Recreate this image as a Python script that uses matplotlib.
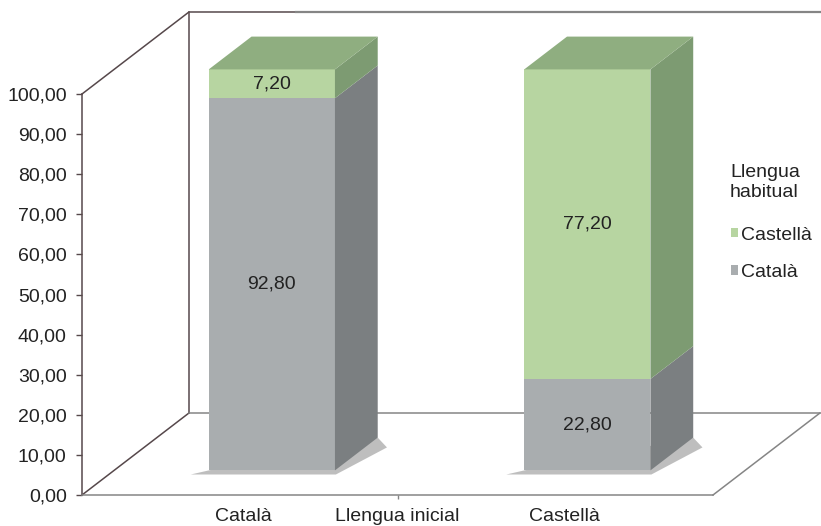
import matplotlib.pyplot as plt
from matplotlib.patches import Patch, Polygon
from matplotlib.ticker import FuncFormatter
from matplotlib.transforms import ScaledTranslation

# data
categories = ['Català', 'Castellà']
axis_title = 'Llengua inicial'
legend_title = 'Llengua\nhabitual'
habitual_catala = [92.80, 22.80]
habitual_castella = [7.20, 77.20]
yticks = list(range(0, 101, 10))

# colours (front, side, top)
gray = ('#a9adaf', '#7b7f81', '#8e9293')
green = ('#b7d5a1', '#7d9b72', '#8fae80')

# fake 3D: shift of the back plane, in data units
DX = 0.339
DY = 20.45
BAR_W = 0.40
D0, D1 = 0.30, 0.70


def proj(x, y, d):
    return x + d * DX, y + d * DY


def line3d(ax, pts, **kw):
    xy = [proj(*p) for p in pts]
    ax.plot([p[0] for p in xy], [p[1] for p in xy], clip_on=False, **kw)


def face(ax, pts, color, z=3, alpha=1):
    ax.add_patch(Polygon([proj(*p) for p in pts], closed=True, fc=color,
                         ec='none', zorder=z, clip_on=False, alpha=alpha))


def box(ax, x, y0, y1, cols, top=False):
    l, r = x - BAR_W / 2, x + BAR_W / 2
    face(ax, [(l, y0, D0), (r, y0, D0), (r, y1, D0), (l, y1, D0)], cols[0])
    face(ax, [(r, y0, D0), (r, y0, D1), (r, y1, D1), (r, y1, D0)], cols[1])
    if top:
        face(ax, [(l, y1, D0), (r, y1, D0), (r, y1, D1), (l, y1, D1)], cols[2])


plt.rcParams['font.family'] = ['Liberation Sans', 'DejaVu Sans']
plt.rcParams['font.size'] = 14

fig = plt.figure(figsize=(8.21, 5.26), dpi=100)
ax = fig.add_axes([82 / 821, 31 / 526, 631 / 821, 401 / 526])
ax.set_xlim(-0.5, 1.5)
ax.set_ylim(0, 100)
ax.set_facecolor('none')

dark = '#56484b'
grey_line = '#858585'
x0, x1 = ax.get_xlim()

# walls and floor
line3d(ax, [(x0, 100, 0), (x0, 100, 1), (x1, 100, 1)], color=dark, lw=1.1, zorder=1)
line3d(ax, [(x0, 100, 1), (x0, 0, 1)], color=dark, lw=1.1, zorder=1)
line3d(ax, [(x0, 0, 0), (x0, 0, 1)], color=dark, lw=1.1, zorder=1)
line3d(ax, [(x0, 0, 1), (x1, 0, 1)], color=grey_line, lw=1.1, zorder=1)
line3d(ax, [(x1, 0, 0), (x1, 0, 1)], color=grey_line, lw=1.1, zorder=1)
line3d(ax, [(-0.16, 100, 1), (x1, 100, 1)], color=grey_line, lw=1.6, zorder=1)

# bars
for i, cat in enumerate(categories):
    a = habitual_catala[i]
    b = habitual_castella[i]
    l, r = i - BAR_W / 2, i + BAR_W / 2
    # soft shadow on the floor
    face(ax, [(l - 0.04, 0, D0 - 0.05), (r + 0.02, 0, D0 - 0.05),
              (r + 0.07, 0, D1 - 0.12), (r, 0, D1), (l, 0, D0)], '#8a8a8a', z=2, alpha=0.55)
    box(ax, i, 0, a, gray)
    box(ax, i, a, a + b, green, top=True)
    lx = i + D0 * DX
    ax.text(lx, a / 2 + D0 * DY, f'{a:.2f}'.replace('.', ','), ha='center',
            va='center', color='#222222', zorder=5)
    ax.text(lx, a + b / 2 + D0 * DY, f'{b:.2f}'.replace('.', ','), ha='center',
            va='center', color='#222222', zorder=5)

# axes
for s in ['top', 'right']:
    ax.spines[s].set_visible(False)
ax.spines['left'].set_color(dark)
ax.spines['bottom'].set_color(grey_line)
ax.spines['left'].set_linewidth(1.1)
ax.spines['bottom'].set_linewidth(1.1)
ax.set_yticks(yticks)
ax.yaxis.set_major_formatter(FuncFormatter(lambda v, p: f'{v:.2f}'.replace('.', ',')))
ax.tick_params(axis='y', length=4, width=1, color=dark, pad=7, labelcolor='#222222')
ax.set_xticks(range(len(categories)), categories)
ax.set_xticks([0.5], [axis_title], minor=True)
ax.tick_params(axis='x', which='major', length=0, pad=9.5, labelcolor='#222222')
ax.tick_params(axis='x', which='minor', length=3, width=1, color=grey_line, pad=6.5,
               labelcolor='#222222')
# category labels sit a little right of the front-plane centre in the original
for lab, shift in zip(ax.get_xticklabels(), [4, 9]):
    lab.set_transform(lab.get_transform() + ScaledTranslation(shift / 100, 0, fig.dpi_scale_trans))

# legend
fig.text(730 / 821, 1 - 164 / 526, legend_title, ha='left', va='top',
         color='#222222', linespacing=1.2)
handles = [Patch(fc=green[0], ec='none', label='Castellà'),
           Patch(fc=gray[0], ec='none', label='Català')]
leg = fig.legend(handles=handles, loc='upper left',
                 bbox_to_anchor=(713 / 821, 1 - 209 / 526), frameon=False,
                 handlelength=0.4, handleheight=0.4, handletextpad=0.15,
                 labelspacing=1.05, fontsize=14)
for t in leg.get_texts():
    t.set_color('#222222')

fig.savefig('out.png', dpi=100)
